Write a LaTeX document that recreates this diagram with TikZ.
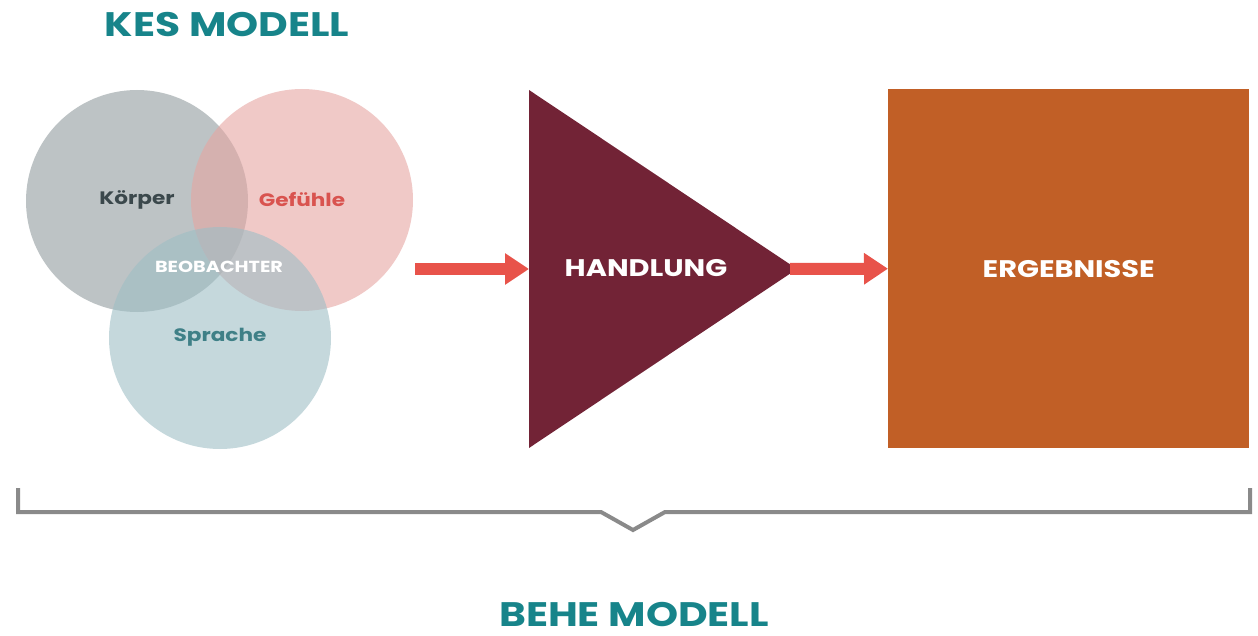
\documentclass[tikz,border=0pt]{standalone}
\usepackage{fontspec}
\setmainfont{Poppins}
\newfontfamily\widefont{Poppins}[FakeStretch=1.2]
\usetikzlibrary{arrows.meta}
\definecolor{teal1}{HTML}{17848A}
\definecolor{ckoerper}{RGB}{145,155,158}
\definecolor{cgefuehle}{RGB}{230,165,162}
\definecolor{csprache}{RGB}{158,190,197}
\definecolor{tkoerper}{HTML}{3B484C}
\definecolor{tgefuehle}{HTML}{D9534F}
\definecolor{tsprache}{HTML}{3F8087}
\definecolor{arrowred}{HTML}{E8534A}
\definecolor{maroon1}{HTML}{722336}
\definecolor{orange1}{HTML}{C15F26}
\definecolor{bracketgray}{HTML}{8A8A8A}
\tikzset{
  venn/.style={circle, minimum size=222pt, inner sep=0pt, fill opacity=0.6},
  title/.style={font=\widefont\fontsize{34}{36}\selectfont\bfseries, text=teal1, anchor=base, inner sep=0pt},
  vlabel/.style={font=\widefont\fontsize{18}{20}\selectfont\bfseries},
  biglabel/.style={font=\widefont\fontsize{24}{26}\selectfont\bfseries, text=white},
  flowarrow/.style={draw=arrowred, line width=12pt, -{Triangle[length=24pt,width=30pt]}},
}
\begin{document}
\begin{tikzpicture}[x=1pt,y=-1pt]
\useasboundingbox (0,0) rectangle (1258,636);
\node[title] (kes) at (227,37) {KES MODELL};
% Venn circles
\node[venn, fill=ckoerper] (ck) at (137,201) {};
\node[venn, fill=cgefuehle] (cg) at (302,200) {};
\node[venn, fill=csprache] (cs) at (220,338) {};
\node[vlabel, text=tkoerper] (lk) at (137,200) {Körper};
\node[vlabel, text=tgefuehle] (lg) at (302,200) {Gefühle};
\node[font=\widefont\fontsize{16}{18}\selectfont\bfseries, text=white] (lb) at (219,267) {BEOBACHTER};
\node[vlabel, text=tsprache] (ls) at (220,337) {Sprache};
% Triangle
\coordinate (t1) at (529,90);
\coordinate (t2) at (529,448);
\coordinate (tip) at (797,269);
\fill[maroon1] (t1) -- (tip) -- (t2) -- cycle;
\node[biglabel] (hand) at (646,268) {HANDLUNG};
% Box
\node[fill=orange1, minimum width=361pt, minimum height=359pt, inner sep=0pt, anchor=north west] (box) at (888,89) {};
\node[biglabel] (erg) at (box.center) {ERGEBNISSE};
% Arrows
\coordinate (a1s) at (415,269);
\draw[flowarrow] (a1s) -- (t1 |- tip);
\coordinate (a2s) at (790,269);
\draw[flowarrow] (a2s) -- (box.west);
% Bracket
\coordinate (b1) at (18,488);
\coordinate (b2) at (18,512);
\coordinate (b3) at (601,512);
\coordinate (b4) at (633,530);
\coordinate (b5) at (665,512);
\coordinate (b6) at (1250,512);
\coordinate (b7) at (1250,488);
\draw[bracketgray, line width=4pt, line join=miter] (b1) -- (b2) -- (b3) -- (b4) -- (b5) -- (b6) -- (b7);
\node[title] (behe) at (634,626) {BEHE MODELL};
\end{tikzpicture}
\end{document}
